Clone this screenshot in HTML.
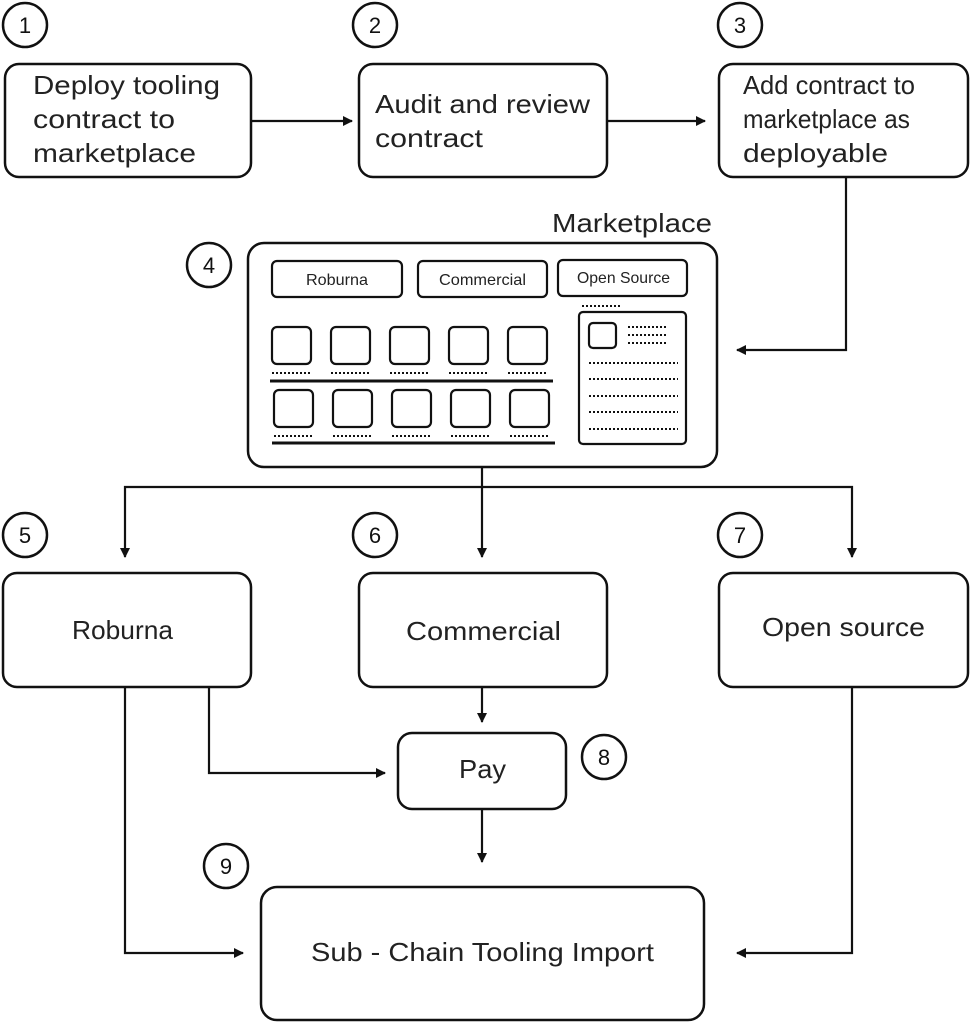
<!DOCTYPE html>
<html><head><meta charset="utf-8"><style>
html,body{margin:0;padding:0;background:#fff;}
svg{display:block;font-family:"Liberation Sans",sans-serif;}
</style></head><body>
<svg width="971" height="1024" viewBox="0 0 971 1024" xmlns="http://www.w3.org/2000/svg">
<defs>
<marker id="a" markerWidth="10" markerHeight="10" refX="9" refY="5" orient="auto" markerUnits="userSpaceOnUse">
<path d="M0,0 L10,5 L0,10 z" fill="#111"/></marker>
</defs>
<g fill="none" stroke="#111" stroke-width="2.5">
<circle cx="25" cy="25" r="22"/><circle cx="375" cy="25" r="22"/><circle cx="740" cy="25" r="22"/>
<circle cx="209" cy="265" r="22"/><circle cx="25" cy="535" r="22"/><circle cx="375" cy="535" r="22"/>
<circle cx="740" cy="535" r="22"/><circle cx="604" cy="757" r="22"/><circle cx="226" cy="866" r="22"/>
<rect x="5" y="64" width="246" height="113" rx="14"/>
<rect x="359" y="64" width="248" height="113" rx="14"/>
<rect x="719" y="64" width="249" height="113" rx="14"/>
<rect x="248" y="243" width="469" height="224" rx="16"/>
<rect x="3" y="573" width="248" height="114" rx="14"/>
<rect x="359" y="573" width="248" height="114" rx="14"/>
<rect x="719" y="573" width="249" height="114" rx="14"/>
<rect x="398" y="733" width="168" height="76" rx="14"/>
<rect x="261" y="887" width="443" height="133" rx="16"/>
</g>
<g fill="none" stroke="#111" stroke-width="2.2">
<rect x="272" y="261" width="130" height="36" rx="5"/>
<rect x="418" y="261" width="129" height="36" rx="5"/>
<rect x="558" y="260" width="129" height="36" rx="5"/>
<rect x="579" y="312" width="107" height="132" rx="4"/>
<rect x="589" y="323" width="27" height="25" rx="4"/>
<rect x="272" y="327" width="39" height="37" rx="5"/><rect x="331" y="327" width="39" height="37" rx="5"/>
<rect x="390" y="327" width="39" height="37" rx="5"/><rect x="449" y="327" width="39" height="37" rx="5"/>
<rect x="508" y="327" width="39" height="37" rx="5"/>
<rect x="274" y="390" width="39" height="37" rx="5"/><rect x="333" y="390" width="39" height="37" rx="5"/>
<rect x="392" y="390" width="39" height="37" rx="5"/><rect x="451" y="390" width="39" height="37" rx="5"/>
<rect x="510" y="390" width="39" height="37" rx="5"/>
</g>
<g stroke="#111" stroke-width="2" stroke-dasharray="2,2">
<path d="M272 373h40M331 373h40M390 373h40M449 373h40M508 373h40M274 436h40M333 436h40M392 436h40M451 436h40M510 436h40M582 306h40M628 327h40M628 335h40M628 343h40M589 363h89M589 379h89M589 396h89M589 412h89M589 429h89"/>
</g>
<g stroke="#111" stroke-width="3"><path d="M270 381h283M272 443h283"/></g>
<g fill="none" stroke="#111" stroke-width="2.2" marker-end="url(#a)">
<path d="M251 121H352"/><path d="M607 121H705"/>
<path d="M846 177V350H737"/>
<path d="M482 467V487H125V557"/><path d="M482 487V557"/><path d="M482 487H852V557"/>
<path d="M482 687V722"/><path d="M209 687V773H385"/><path d="M482 809V862"/>
<path d="M125 687V953H243"/><path d="M852 687V953H737"/>
</g>
<g fill="#111" font-size="22" text-anchor="middle">
<text x="25" y="33">1</text><text x="375" y="33">2</text><text x="740" y="33">3</text>
<text x="209" y="273">4</text><text x="25" y="543">5</text><text x="375" y="543">6</text>
<text x="740" y="543">7</text><text x="604" y="765">8</text><text x="226" y="874">9</text>
</g>
<g fill="#222" font-size="26" lengthAdjust="spacingAndGlyphs">
<text x="33" y="94" textLength="187" lengthAdjust="spacingAndGlyphs">Deploy tooling</text>
<text x="33" y="128" textLength="142" lengthAdjust="spacingAndGlyphs">contract to</text>
<text x="33" y="162" textLength="163" lengthAdjust="spacingAndGlyphs">marketplace</text>
<text x="375" y="113" textLength="215" lengthAdjust="spacingAndGlyphs">Audit and review</text>
<text x="375" y="147" textLength="108" lengthAdjust="spacingAndGlyphs">contract</text>
<text x="743" y="94" textLength="172" lengthAdjust="spacingAndGlyphs">Add contract to</text>
<text x="743" y="128" textLength="167" lengthAdjust="spacingAndGlyphs">marketplace as</text>
<text x="743" y="162" textLength="145" lengthAdjust="spacingAndGlyphs">deployable</text>
<text x="552" y="232" textLength="160" lengthAdjust="spacingAndGlyphs">Marketplace</text>
<text x="72" y="639" textLength="101" lengthAdjust="spacingAndGlyphs">Roburna</text>
<text x="406" y="640" textLength="155" lengthAdjust="spacingAndGlyphs">Commercial</text>
<text x="762" y="636" textLength="163" lengthAdjust="spacingAndGlyphs">Open source</text>
<text x="459" y="778" textLength="47" lengthAdjust="spacingAndGlyphs">Pay</text>
<text x="311" y="961" textLength="343" lengthAdjust="spacingAndGlyphs">Sub - Chain Tooling Import</text>
</g>
<g fill="#222" font-size="16">
<text x="306" y="285" textLength="62" lengthAdjust="spacingAndGlyphs">Roburna</text>
<text x="439" y="285" textLength="87" lengthAdjust="spacingAndGlyphs">Commercial</text>
<text x="577" y="283" textLength="93" lengthAdjust="spacingAndGlyphs">Open Source</text>
</g>
</svg>
</body></html>
